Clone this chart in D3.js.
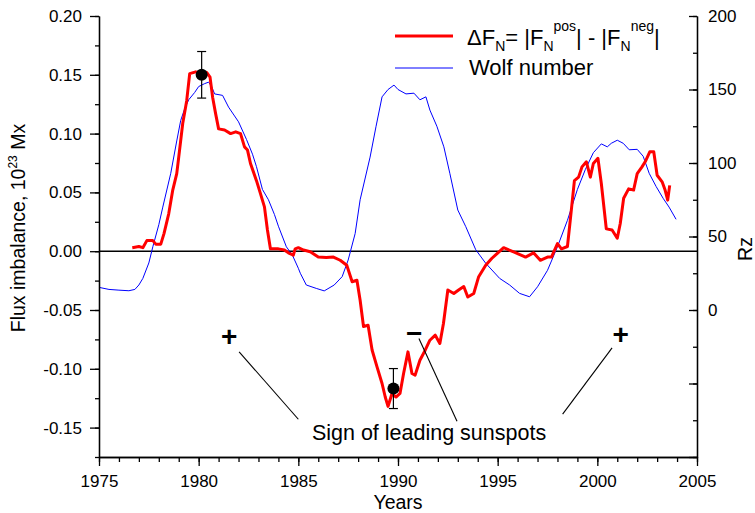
<!DOCTYPE html>
<html><head><meta charset="utf-8">
<script src="https://cdn.jsdelivr.net/npm/d3@7"></script>
<style>
body{margin:0;background:#fff}
svg{display:block}
text{font-family:"Liberation Sans",Arial,Helvetica,sans-serif;fill:#000}
</style>
</head><body>
<svg id="chart" width="755" height="513"></svg>
<script>
// ---------- data ----------
const fluxYears = [1976.67,1977.0,1977.2,1977.4,1977.7,1977.85,1978.1,1978.26,1978.5,1978.7,1978.9,1979.0,1979.2,1979.4,1979.55,1979.85,1980.2,1980.4,1980.57,1980.7,1980.85,1981.0,1981.3,1981.6,1981.86,1982.1,1982.3,1982.45,1982.6,1982.9,1983.1,1983.3,1983.45,1983.6,1984.0,1984.3,1984.5,1984.75,1984.84,1985.0,1985.26,1985.6,1986.0,1986.4,1986.76,1987.1,1987.43,1987.7,1987.94,1988.1,1988.27,1988.5,1988.7,1988.94,1989.2,1989.36,1989.5,1989.7,1989.9,1990.1,1990.28,1990.5,1990.7,1990.86,1991.1,1991.37,1991.6,1991.87,1992.1,1992.28,1992.5,1992.8,1993.04,1993.3,1993.5,1993.8,1994.04,1994.4,1994.7,1995.3,1995.8,1996.4,1996.8,1997.14,1997.5,1997.7,1998.0,1998.2,1998.5,1998.64,1998.85,1999.06,1999.23,1999.45,1999.65,1999.8,2000.03,2000.2,2000.45,2000.74,2001.0,2001.15,2001.32,2001.57,2001.82,2002.0,2002.24,2002.4,2002.63,2002.83,2003.0,2003.25,2003.4,2003.53,2003.63];
const fluxValues = [0.003,0.004,0.003,0.009,0.009,0.006,0.006,0.015,0.032,0.052,0.066,0.080,0.1086,0.128,0.151,0.1525,0.151,0.152,0.148,0.131,0.117,0.104,0.103,0.100,0.1015,0.100,0.0887,0.086,0.0746,0.060,0.049,0.0377,0.018,0.002,0.002,0.001,-0.0014,-0.0034,0.002,0.003,0.001,-0.0005,-0.005,-0.0054,-0.005,-0.0077,-0.012,-0.026,-0.0247,-0.0417,-0.064,-0.063,-0.084,-0.098,-0.1125,-0.124,-0.132,-0.121,-0.124,-0.121,-0.104,-0.0856,-0.104,-0.1054,-0.0927,-0.084,-0.0757,-0.0714,-0.0785,-0.0615,-0.033,-0.036,-0.033,-0.030,-0.039,-0.036,-0.022,-0.012,-0.0062,0.003,-0.0006,-0.005,-0.0014,-0.0077,-0.005,-0.005,0.0065,0.002,0.004,0.026,0.060,0.063,0.0717,0.076,0.063,0.0746,0.079,0.0576,0.019,0.018,0.011,0.0236,0.045,0.053,0.052,0.066,0.0717,0.076,0.0845,0.0845,0.0646,0.059,0.052,0.0434,0.056];

const wolfYears = [1975.0,1975.5,1976.0,1976.5,1976.8,1977.0,1977.2,1977.5,1977.7,1978.0,1978.2,1978.6,1978.9,1979.1,1979.3,1979.5,1979.8,1980.0,1980.3,1980.5,1980.65,1980.8,1981.2,1981.5,1981.8,1982.0,1982.4,1982.7,1982.9,1983.2,1983.5,1983.8,1984.0,1984.4,1984.7,1985.0,1985.1,1985.4,1985.9,1986.3,1986.8,1987.2,1987.5,1987.85,1988.1,1988.6,1988.9,1989.2,1989.5,1989.8,1990.0,1990.4,1990.8,1991.1,1991.4,1991.6,1991.95,1992.3,1992.6,1993.0,1993.4,1993.9,1994.4,1995.1,1995.6,1996.1,1996.6,1997.0,1997.5,1998.0,1998.5,1999.0,1999.4,1999.8,2000.2,2000.5,2000.7,2001.0,2001.3,2001.6,2002.0,2002.3,2002.6,2002.95,2003.3,2003.6,2003.95];
const wolfValues = [15.4,14,13.5,13.1,14,17,21.5,32,43,58,70,93,115,129,137,143,148,152,154,155,152,147,146,138,132,128,116,106,97.5,82,75,65,57,43,37.4,28.4,25,17,14.7,13,17,22.7,34,52,75,104,125,145,150,153,150,147,147.5,143,145,136,125,111,93,68,56.7,41,31.8,21.5,17,11.3,9,15.8,27,43,61,82,95.6,107,113,111,113.4,115.5,113.4,109,109.3,104.6,93,84,76,70,61.7];

const errYears = [1980.15, 1989.77];
const errValues = [0.150, -0.1168];
const errSizes = [0.0198, 0.0170];

const xTicks = [1975,1980,1985,1990,1995,2000,2005];
const xMinorTicks = d3.range(1975, 2006, 1);
const yLeftTicks = [-0.15,-0.10,-0.05,0.00,0.05,0.10,0.15,0.20];
const yLeftMinor = d3.range(-0.175, 0.2001, 0.025);
const yRightTicks = [-100,-50,0,50,100,150,200];
const yRightMinor = d3.range(-100, 201, 25);
const yRightLabelled = [0,50,100,150,200];

// annotation anchors, data coordinates (year, flux)
const signMarks = [{t:"+", x:1981.53, y:-0.0723},{t:"\u2212", x:1990.81, y:-0.0697},{t:"+", x:2001.17, y:-0.0708}];
const signLines = [[1982.03,-0.0856,1985.0,-0.1429],[1991.05,-0.0742,1992.96,-0.1446],[1998.26,-0.1386,2000.74,-0.0822]];
const signText = {t:"Sign of leading sunspots", x:1985.68, y:-0.1607};

// ---------- layout ----------
const L=99, R=697, T=16, B=457;
const svg = d3.select("#chart");
const x = d3.scaleLinear().domain([1975,2005]).range([L,R]);
const yL = d3.scaleLinear().domain([-0.175,0.20]).range([B,T]);
const yR = d3.scaleLinear().domain([-100,200]).range([B,T]);
const FONT = 17;

// zero line
svg.append("line").attr("x1",L).attr("x2",R).attr("y1",yL(0)).attr("y2",yL(0))
  .attr("stroke","#000").attr("stroke-width",1.4);

// wolf number
svg.append("path").datum(wolfYears.map((d,i)=>[d,wolfValues[i]]))
  .attr("fill","none").attr("stroke","#0000ff").attr("stroke-width",1)
  .attr("d", d3.line().x(d=>x(d[0])).y(d=>yR(d[1])));

// flux imbalance
svg.append("path").datum(fluxYears.map((d,i)=>[d,fluxValues[i]]))
  .attr("fill","none").attr("stroke","#ff0000").attr("stroke-width",3).attr("stroke-linejoin","round")
  .attr("d", d3.line().x(d=>x(d[0])).y(d=>yL(d[1])));

// error bars
const eb = svg.append("g").attr("stroke","#000").attr("stroke-width",1.2);
errYears.forEach((yr,i)=>{
  const cx=x(yr), top=yL(errValues[i]+errSizes[i]), bot=yL(errValues[i]-errSizes[i]);
  eb.append("line").attr("x1",cx).attr("x2",cx).attr("y1",top).attr("y2",bot);
  eb.append("line").attr("x1",cx-4.5).attr("x2",cx+4.5).attr("y1",top).attr("y2",top);
  eb.append("line").attr("x1",cx-4.5).attr("x2",cx+4.5).attr("y1",bot).attr("y2",bot);
  svg.append("circle").attr("cx",cx).attr("cy",yL(errValues[i])).attr("r",6).attr("fill","#000");
});

// axes
function styleAxis(g){ g.selectAll("path,line").attr("stroke","#000").attr("stroke-width",1.3);
  g.selectAll("text").attr("font-size",FONT).attr("font-family",'"Liberation Sans",Arial,sans-serif').attr("fill","#000"); }

const gx = svg.append("g").attr("transform",`translate(0,${B})`)
  .call(d3.axisBottom(x).tickValues(xTicks).tickFormat(d3.format("d")).tickSizeInner(9).tickSizeOuter(0).tickPadding(9));
styleAxis(gx);
const gxm = svg.append("g").attr("transform",`translate(0,${B})`)
  .call(d3.axisBottom(x).tickValues(xMinorTicks).tickFormat("").tickSizeInner(5).tickSizeOuter(0));
styleAxis(gxm);

const gl = svg.append("g").attr("transform",`translate(${L},0)`)
  .call(d3.axisLeft(yL).tickValues(yLeftTicks).tickFormat(d3.format(".2f")).tickSizeInner(9).tickSizeOuter(0).tickPadding(8));
styleAxis(gl);
gl.selectAll("text").text(d=>d3.format(".2f")(d).replace("\u2212","-"));
const glm = svg.append("g").attr("transform",`translate(${L},0)`)
  .call(d3.axisLeft(yL).tickValues(yLeftMinor).tickFormat("").tickSizeInner(4).tickSizeOuter(0));
styleAxis(glm);

const gr = svg.append("g").attr("transform",`translate(${R},0)`)
  .call(d3.axisRight(yR).tickValues(yRightTicks).tickFormat(d=>yRightLabelled.includes(d)?d:"").tickSizeInner(-8).tickSizeOuter(0).tickPadding(11));
styleAxis(gr);
const grm = svg.append("g").attr("transform",`translate(${R},0)`)
  .call(d3.axisRight(yR).tickValues(yRightMinor).tickFormat("").tickSizeInner(-4).tickSizeOuter(0));
styleAxis(grm);

// axis titles
svg.append("text").attr("x",(L+R)/2).attr("y",509).attr("text-anchor","middle").attr("font-size",19.5).text("Years");
const ylab = svg.append("text").attr("transform","translate(25,228) rotate(-90)").attr("text-anchor","middle").attr("font-size",19.5);
ylab.append("tspan").text("Flux imbalance, 10");
ylab.append("tspan").attr("font-size",12).attr("dy",-8).text("23");
ylab.append("tspan").attr("dy",8).text(" Mx");
svg.append("text").attr("transform","translate(752,249) rotate(-90)").attr("text-anchor","middle").attr("font-size",19.5).text("Rz");

// annotations
signLines.forEach(l=>{
  svg.append("line").attr("x1",x(l[0])).attr("y1",yL(l[1])).attr("x2",x(l[2])).attr("y2",yL(l[3]))
    .attr("stroke","#000").attr("stroke-width",1.1);
});
signMarks.forEach(m=>{
  svg.append("text").attr("x",x(m.x)).attr("y",yL(m.y)).attr("text-anchor","middle").attr("dominant-baseline","central")
    .attr("font-size",28).attr("font-weight","bold").text(m.t);
});
svg.append("text").attr("x",x(signText.x)).attr("y",yL(signText.y)).attr("font-size",21.5).text(signText.t);

// legend
const lg = svg.append("g");
lg.append("line").attr("x1",395).attr("x2",453).attr("y1",36).attr("y2",36).attr("stroke","#ff0000").attr("stroke-width",3);
lg.append("line").attr("x1",395).attr("x2",453).attr("y1",68).attr("y2",68).attr("stroke","#0000ff").attr("stroke-width",1);
const t1 = lg.append("text").attr("x",467).attr("y",45).attr("font-size",22);
const parts = [["\u0394F",0,22],["N",6,14],["= |F",-6,22],["N",6,14],["pos",-20,14],["| - |F",14,22],["N",6,14],["neg",-20,14],["|",14,22]];
parts.forEach(p=>t1.append("tspan").attr("dy",p[1]).attr("font-size",p[2]).text(p[0]));
lg.append("text").attr("x",469).attr("y",75).attr("font-size",22).text("Wolf number");
</script>
</body></html>
